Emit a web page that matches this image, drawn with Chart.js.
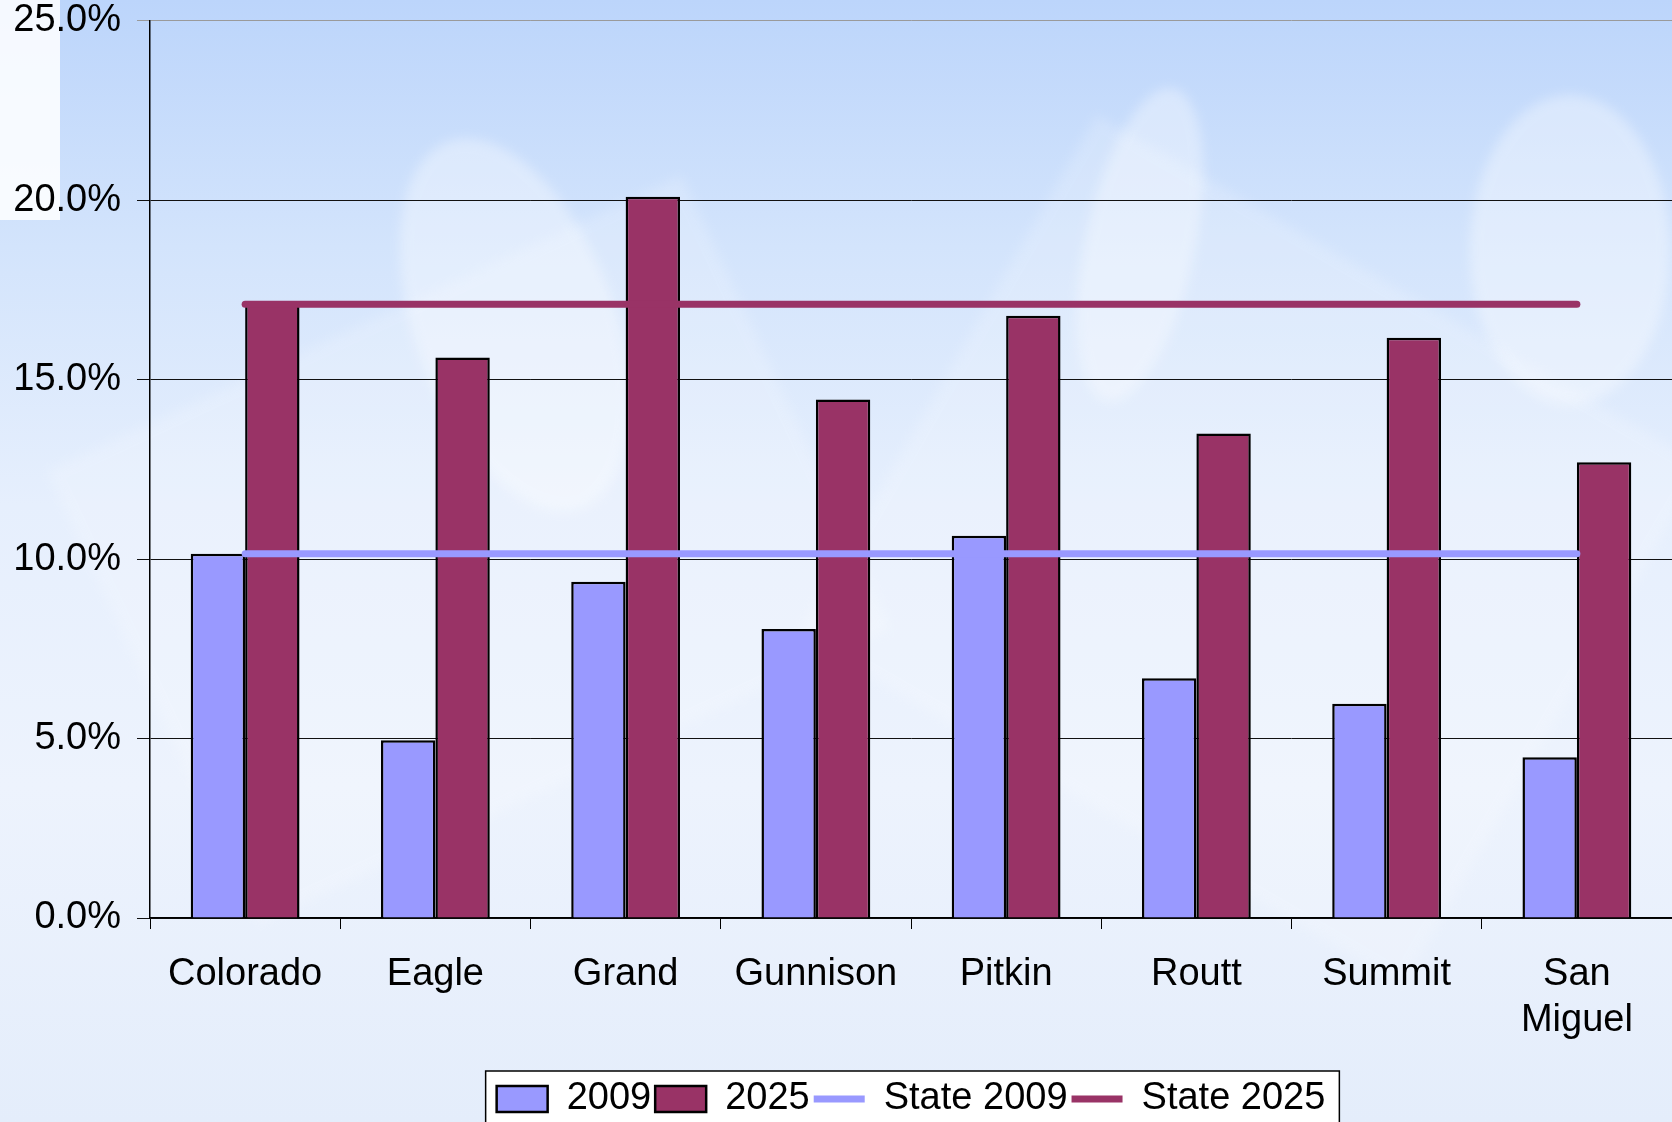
<!DOCTYPE html>
<html>
<head>
<meta charset="utf-8">
<script src="https://cdn.jsdelivr.net/npm/chart.js@4/dist/chart.umd.min.js"></script>
<style>
  html, body { margin: 0; padding: 0; }
  body {
    width: 1672px; height: 1122px; overflow: hidden; position: relative;
    background: linear-gradient(180deg, #bcd5fb 0%, #d3e4fc 22%, #e6effd 45%, #edf3fd 70%, #e4edfb 100%);
  }
  .shape { position: absolute; background: #ffffff; opacity: 0.35; filter: blur(6px); }
  /* canvas starts a little above the page so the top tick label can sit at the edge */
  #wrap { position: absolute; left: 0; top: -18px; width: 1672px; height: 1140px; }
</style>
</head>
<body>
<div class="shape" style="left:0;top:0;width:60px;height:220px;opacity:0.85;filter:none;"></div>
<div class="shape" style="left:415px;top:130px;width:200px;height:390px;border-radius:50%;transform:rotate(-20deg);"></div>
<div class="shape" style="left:1085px;top:85px;width:110px;height:320px;border-radius:50%;transform:rotate(12deg);"></div>
<div class="shape" style="left:1470px;top:95px;width:200px;height:310px;border-radius:50%;"></div>
<div class="shape" style="left:120px;top:300px;width:700px;height:500px;transform:rotate(-25deg);opacity:0.18;"></div>
<div class="shape" style="left:900px;top:250px;width:700px;height:600px;transform:rotate(30deg);opacity:0.18;"></div>
<div id="wrap"><canvas id="chart" width="1672" height="1140"></canvas></div>
<script>
  const categories = ["Colorado", "Eagle", "Grand", "Gunnison", "Pitkin", "Routt", "Summit", ["San", "Miguel"]];
  const values2009 = [10.15, 4.95, 9.37, 8.05, 10.65, 6.68, 5.97, 4.48];
  const values2025 = [17.1, 15.62, 20.1, 14.45, 16.78, 13.5, 16.17, 12.7];
  const state2009 = [10.15, 10.15, 10.15, 10.15, 10.15, 10.15, 10.15, 10.15];
  const state2025 = [17.1, 17.1, 17.1, 17.1, 17.1, 17.1, 17.1, 17.1];
  const yTicks = [0, 5, 10, 15, 20, 25];

  const fontFamily = "'Liberation Sans', Arial, sans-serif";
  const blue = "#9999ff";
  const plum = "#993366";

  // white box behind the legend, like the original
  const legendBox = {
    id: "legendBox",
    beforeDraw(chart) {
      const legend = chart.legend;
      if (!legend || !legend.legendHitBoxes || !legend.legendHitBoxes.length) return;
      const boxes = legend.legendHitBoxes;
      const left = Math.min(...boxes.map(b => b.left)) - 11;
      const right = Math.max(...boxes.map(b => b.left + b.width)) + 14;
      const top = Math.min(...boxes.map(b => b.top)) - 9;
      const ctx = chart.ctx;
      ctx.save();
      ctx.fillStyle = "#ffffff";
      ctx.strokeStyle = "#000000";
      ctx.lineWidth = 1.5;
      ctx.fillRect(left, top, right - left, chart.height - top + 10);
      ctx.strokeRect(left, top, right - left, chart.height - top + 10);
      ctx.restore();
    }
  };

  new Chart(document.getElementById("chart"), {
    type: "bar",
    data: {
      labels: categories,
      datasets: [
        {
          label: "2009", data: values2009, backgroundColor: blue,
          borderColor: "#000000", borderWidth: 2.5, order: 2, pointStyle: "rect"
        },
        {
          label: "2025", data: values2025, backgroundColor: plum,
          borderColor: "#000000", borderWidth: 2.5, order: 2, pointStyle: "rect"
        },
        {
          type: "line", label: "State 2009", data: state2009, borderColor: blue,
          backgroundColor: blue, borderWidth: 7, borderCapStyle: "round",
          pointRadius: 0, pointStyle: "line", order: 1
        },
        {
          type: "line", label: "State 2025", data: state2025, borderColor: plum,
          backgroundColor: plum, borderWidth: 7, borderCapStyle: "round",
          pointRadius: 0, pointStyle: "line", order: 1
        }
      ]
    },
    options: {
      responsive: false,
      animation: false,
      layout: { padding: { top: 0, right: 0, bottom: -6, left: 0 } },
      datasets: {
        bar: { categoryPercentage: 0.572, barPercentage: 1 }
      },
      plugins: {
        title: { display: false },
        tooltip: { enabled: false },
        legend: {
          position: "bottom",
          fullSize: false,
          labels: {
            usePointStyle: true,
            pointStyleWidth: 51,
            boxHeight: 26,
            padding: 4,
            color: "#000000",
            font: { family: fontFamily, size: 38 },
            sort: (a, b) => a.datasetIndex - b.datasetIndex
          }
        }
      },
      scales: {
        x: {
          offset: true,
          grid: {
            offset: true, drawOnChartArea: false, drawTicks: true,
            tickLength: 11, color: "#000000", lineWidth: 1
          },
          border: { color: "#000000", width: 1.5 },
          ticks: {
            color: "#000000", padding: 22, maxRotation: 0, autoSkip: false,
            font: { family: fontFamily, size: 38, lineHeight: 1.22 }
          },
          afterFit(scale) { scale.height = 158; }
        },
        y: {
          min: 0, max: 25,
          afterBuildTicks(scale) { scale.ticks = yTicks.map(v => ({ value: v })); },
          grid: {
            color: ctx => (ctx.tick && ctx.tick.value === 25 ? "#9a9a9a" : "#111111"),
            lineWidth: 1, tickLength: 13
          },
          border: { color: "#000000", width: 1.5 },
          ticks: {
            color: "#000000", padding: 16,
            font: { family: fontFamily, size: 38 },
            callback: value => value.toFixed(1) + "%"
          },
          afterFit(scale) { scale.width = 150; }
        }
      }
    },
    plugins: [legendBox]
  });
</script>
</body>
</html>
